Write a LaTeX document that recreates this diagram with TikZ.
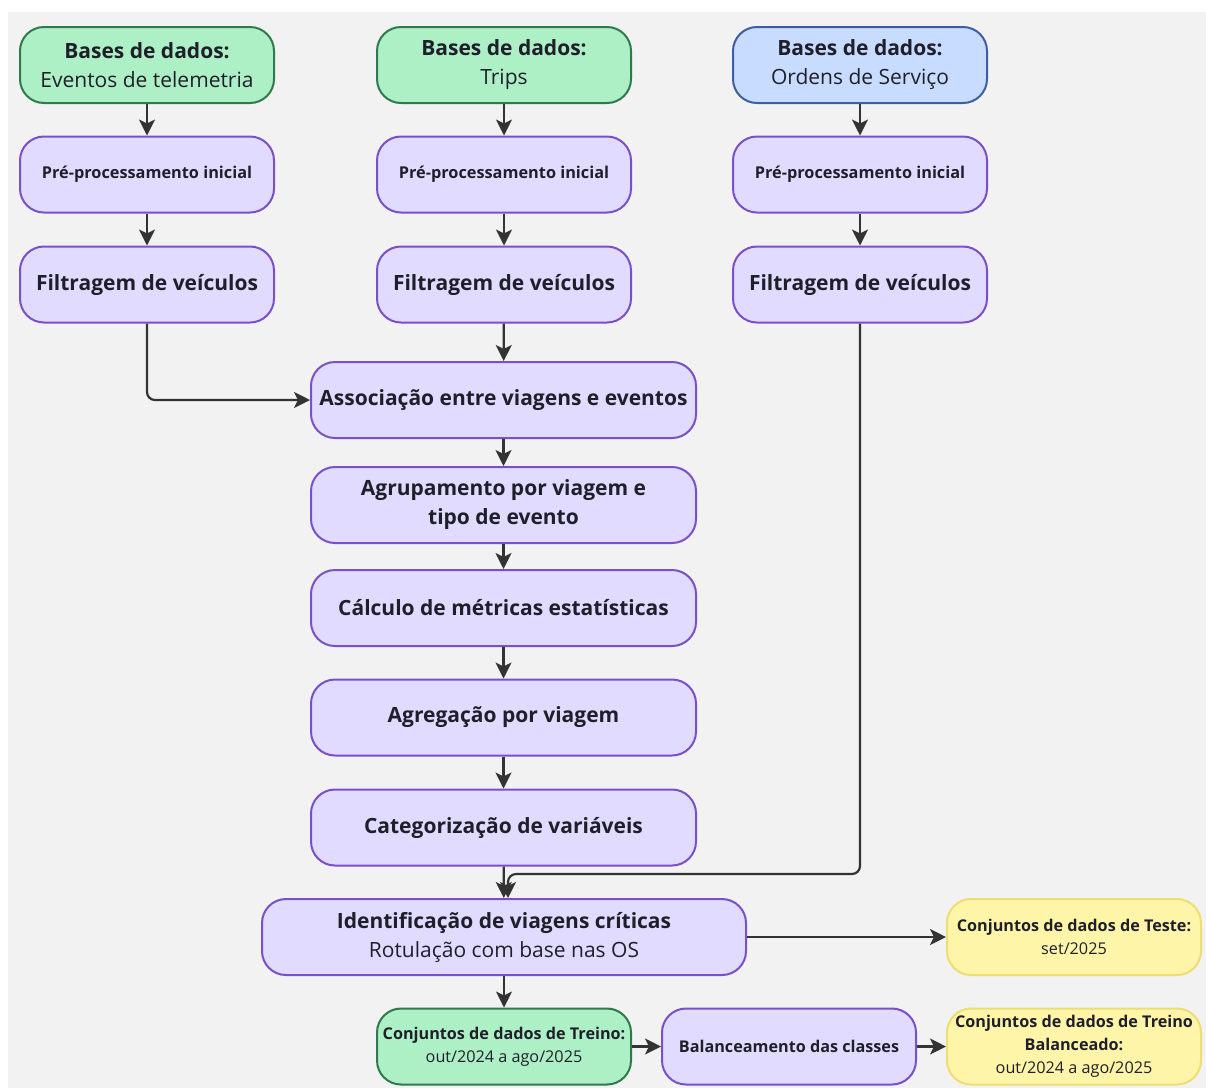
\documentclass[tikz,border=0pt]{standalone}
\usepackage{fontspec}
\setmainfont{Open Sans}
\usetikzlibrary{arrows.meta,calc}
\definecolor{bg}{HTML}{F2F2F2}
\definecolor{gfill}{HTML}{AEF0C6}
\definecolor{gdraw}{HTML}{2F7A4A}
\definecolor{bfill}{HTML}{C8DCFF}
\definecolor{bdraw}{HTML}{3E5F9E}
\definecolor{pfill}{HTML}{E1DCFF}
\definecolor{pdraw}{HTML}{7A4FCB}
\definecolor{yfill}{HTML}{FFF5A8}
\definecolor{ydraw}{HTML}{EEDD72}
\definecolor{txt}{HTML}{1F1F2B}
\definecolor{arr}{HTML}{333333}
\begin{document}
\begin{tikzpicture}[x=1pt,y=-1pt,
  box/.style={rounded corners=24pt,line width=2pt,minimum width=254pt,minimum height=76pt,
    align=center,text=txt,inner sep=1pt},
  gbox/.style={box,fill=gfill,draw=gdraw},
  bbox/.style={box,fill=bfill,draw=bdraw},
  pbox/.style={box,fill=pfill,draw=pdraw},
  ybox/.style={box,fill=yfill,draw=ydraw},
  big/.style={font=\fontsize{21}{29}\selectfont},
  small/.style={font=\fontsize{16.3}{23}\selectfont},
  tiny/.style={font=\fontsize{16.2}{23}\selectfont},
  conn/.style={line width=2.2pt,draw=arr,-{Stealth[length=16pt,width=16pt,inset=4pt]}}]
\fill[white] (0,0) rectangle (1206,1088);
\fill[bg] (8,12) rectangle (1206,1088);
\useasboundingbox (0,0) rectangle (1206,1088);
% column 1
\node[gbox,big] (db1) at (147,65) {\textbf{Bases de dados:}\\Eventos de telemetria};
\node[pbox,small] (pp1) at (147,174.5) {\textbf{Pré-processamento inicial}};
\node[pbox,big] (fv1) at (147,284.5) {\textbf{Filtragem de veículos}};
% column 2
\node[gbox,big] (db2) at (504,65) {\textbf{Bases de dados:}\\Trips};
\node[pbox,small] (pp2) at (504,174.5) {\textbf{Pré-processamento inicial}};
\node[pbox,big] (fv2) at (504,284.5) {\textbf{Filtragem de veículos}};
% column 3
\node[bbox,big] (db3) at (860,65) {\textbf{Bases de dados:}\\Ordens de Serviço};
\node[pbox,small] (pp3) at (860,174.5) {\textbf{Pré-processamento inicial}};
\node[pbox,big] (fv3) at (860,284.5) {\textbf{Filtragem de veículos}};
% main chain
\node[pbox,big,minimum width=385pt] (assoc) at (503.5,400) {\textbf{Associação entre viagens e eventos}};
\node[pbox,big,minimum width=385pt] (agr) at (503.5,505) {\textbf{Agrupamento por viagem e}\\\textbf{tipo de evento}};
\node[pbox,big,minimum width=385pt] (calc) at (503.5,608) {\textbf{Cálculo de métricas estatísticas}};
\node[pbox,big,minimum width=385pt] (agg) at (503.5,717.5) {\textbf{Agregação por viagem}};
\node[pbox,big,minimum width=385pt] (cat) at (503.5,827.5) {\textbf{Categorização de variáveis}};
\node[pbox,big,minimum width=484pt] (ident) at (504,937) {\textbf{Identificação de viagens críticas}\\Rotulação com base nas OS};
\node[ybox,tiny] (teste) at (1074,937) {\textbf{Conjuntos de dados de Teste:}\\set/2025};
\node[gbox,tiny] (treino) at (504,1046.5) {\textbf{Conjuntos de dados de Treino:}\\out/2024 a ago/2025};
\node[pbox,tiny] (bal) at (789,1046.5) {\textbf{Balanceamento das classes}};
\node[ybox,tiny] (treinob) at (1074,1046.5) {\textbf{Conjuntos de dados de Treino}\\\textbf{Balanceado:}\\out/2024 a ago/2025};
% connectors
\draw[conn] (db1) -- (pp1);
\draw[conn] (pp1) -- (fv1);
\draw[conn] (db2) -- (pp2);
\draw[conn] (pp2) -- (fv2);
\draw[conn] (db3) -- (pp3);
\draw[conn] (pp3) -- (fv3);
\draw[conn,rounded corners=8pt] (fv1.south) |- (assoc.west);
\draw[conn] (fv2) -- (assoc);
\draw[conn] (assoc) -- (agr);
\draw[conn] (agr) -- (calc);
\draw[conn] (calc) -- (agg);
\draw[conn] (agg) -- (cat);
\draw[conn] (cat) -- (ident);
\draw[conn,rounded corners=8pt] (fv3.south) |- ($(ident.north)+(4,-24)$) -- ($(ident.north)+(4,0)$);
\draw[conn] (ident) -- (teste);
\draw[conn] (ident) -- (treino);
\draw[conn] (treino) -- (bal);
\draw[conn] (bal) -- (treinob);
\end{tikzpicture}
\end{document}
